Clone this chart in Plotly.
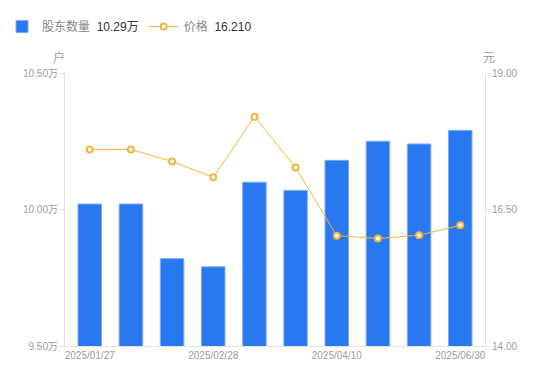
import plotly.graph_objects as go

dates = ["2025/01/27", "2025/02/10", "2025/02/20", "2025/02/28", "2025/03/10",
         "2025/03/20", "2025/04/10", "2025/04/30", "2025/05/30", "2025/06/30"]
holders_wan = [10.02, 10.02, 9.82, 9.79, 10.10, 10.07, 10.18, 10.25, 10.24, 10.29]
price = [17.60, 17.60, 17.38, 17.09, 18.20, 17.27, 16.02, 15.97, 16.03, 16.21]
tick_dates = ["2025/01/27", "2025/02/28", "2025/04/10", "2025/06/30"]
left_ticks = [9.5, 10.0, 10.5]
left_tick_text = ["9.50万", "10.00万", "10.50万"]
right_ticks = [14, 16.5, 19]
right_tick_text = ["14.00", "16.50", "19.00"]

font_family = "Liberation Sans, Noto Sans CJK SC, sans-serif"
grey = "#9b9bab"
axis_line = "#e3e3e8"

fig = go.Figure()
fig.add_trace(go.Bar(
    x=dates, y=holders_wan, name="股东数量  <span style='color:#333'>10.29万</span>",
    marker=dict(color="#2878f0", line=dict(color="#7aaaf5", width=1)),
    yaxis="y",
))
fig.add_trace(go.Scatter(
    x=dates, y=price, name="价格  <span style='color:#333'>16.210</span>",
    mode="lines+markers",
    line=dict(color="#f7b43c", width=1),
    marker=dict(symbol="circle", size=6, color="white",
                line=dict(color="#f7b43c", width=2)),
    yaxis="y2",
))

fig.update_layout(
    width=542, height=373,
    margin=dict(l=57, r=65, t=65, b=35, autoexpand=False),
    paper_bgcolor="white", plot_bgcolor="white",
    font=dict(family=font_family, size=10, color=grey),
    bargap=0.43,
    showlegend=True,
    legend=dict(orientation="h", x=-0.15, xanchor="left", y=1.17, yanchor="middle",
                font=dict(size=12, color="#888"), itemwidth=30),
    xaxis=dict(type="category", tickmode="array", tickvals=tick_dates, ticktext=tick_dates,
               showline=True, linecolor=axis_line, linewidth=1, ticks="",
               showgrid=False, tickfont=dict(size=10, color=grey)),
    yaxis=dict(range=[9.5, 10.5], tickmode="array", tickvals=left_ticks,
               ticktext=left_tick_text, showline=True, linecolor=axis_line, linewidth=1,
               ticks="outside", ticklen=4, tickcolor=axis_line, showgrid=False,
               zeroline=False, tickfont=dict(size=10, color=grey)),
    yaxis2=dict(range=[14, 19], tickmode="array", tickvals=right_ticks,
                ticktext=right_tick_text,
                overlaying="y", side="right", showline=True, linecolor=axis_line,
                linewidth=1, ticks="outside", ticklen=4, tickcolor=axis_line,
                showgrid=False, zeroline=False, tickfont=dict(size=10, color=grey)),
    annotations=[
        dict(text="户", xref="paper", yref="paper", x=-0.014, y=1.06, showarrow=False,
             xanchor="center", yanchor="middle", font=dict(size=12, color=grey,
             family="Noto Sans CJK SC")),
        dict(text="元", xref="paper", yref="paper", x=1.01, y=1.06, showarrow=False,
             xanchor="center", yanchor="middle", font=dict(size=12, color=grey,
             family="Noto Sans CJK SC")),
    ],
)

fig.write_html("out.html")
